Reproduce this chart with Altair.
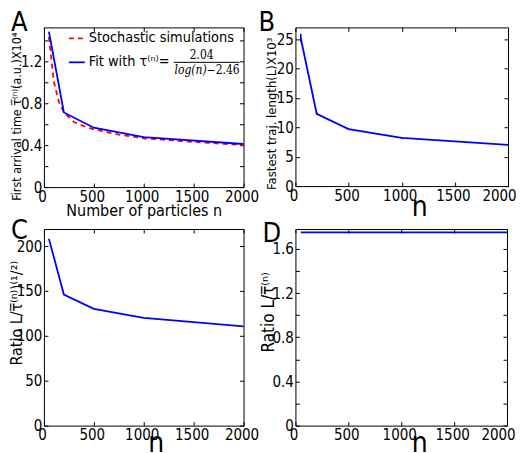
import altair as alt
import pandas as pd

# ---------------- data ----------------
n_values = [50, 200, 500, 1000, 2000]
n_sim = [50, 100, 150, 200, 300, 400, 500, 750, 1000, 1500, 2000]
tau_sim = [1.43, 1.00, 0.81, 0.71, 0.62, 0.58, 0.55, 0.50, 0.465, 0.43, 0.40]
tau_fit = [1.48, 0.71, 0.565, 0.475, 0.41]
fast_len = [25.2, 12.3, 9.7, 8.2, 7.0]
fast_len_err = [0.7, 0.2, 0.15, 0.15, 0.1]
ratio_sqrt = [208, 146, 130, 120, 110.5]
ratio_lin = [1.75, 1.75, 1.75, 1.75, 1.75]

x_ticks = [0, 500, 1000, 1500, 2000]
yA_ticks = [0, 0.2, 0.4, 0.6, 0.8, 1.0, 1.2, 1.4]
yB_ticks = [0, 5, 10, 15, 20, 25]
yC_ticks = [0, 50, 100, 150, 200]
yD_ticks = [0, 0.2, 0.4, 0.6, 0.8, 1.0, 1.2, 1.4, 1.6]

panel_letters = ["A", "B", "C", "D"]
legend_labels = ["Stochastic simulations", "Fit with τ⁽ⁿ⁾="]
fit_numerator = "2.04"
fit_den_left = "log(n)"
fit_den_right = "−2.46"

title_A_x = "Number of particles  n"
title_A_y = "First arrival time τ̅⁽ⁿ⁾(a.u.)X10⁴"
title_B_y = "Fastest traj. length(L)X10³"
title_C_y = "Ratio L/τ̅⁽ⁿ⁾)⁽¹/²⁾"
title_D_y = "Ratio L/τ̅⁽ⁿ⁾"
title_n = "n"

FONT = "'DejaVu Sans Condensed', 'DejaVu Sans'"
SERIF = "'DejaVu Serif Condensed', 'DejaVu Serif'"
TL = 4  # inward tick length
BLUE = "#0000ff"
RED = "#ff0000"
LBL = 15

df_A_sim = pd.DataFrame({"n": n_sim, "v": tau_sim})
df_A_fit = pd.DataFrame({"n": n_values, "v": tau_fit})
df_B = pd.DataFrame({"n": n_values, "v": fast_len, "lo": [a - b for a, b in zip(fast_len, fast_len_err)],
                     "hi": [a + b for a, b in zip(fast_len, fast_len_err)]})
df_C = pd.DataFrame({"n": n_values, "v": ratio_sqrt})
df_D = pd.DataFrame({"n": n_values, "v": ratio_lin})

SPLIT_EXPR = ("round(datum.value*10) % 4 == 0 ? (datum.value == 0 ? '0' : format(datum.value, '.1f')) : ''")


def x_main(title, size, tx, ty, last_shift=-2):
    return alt.Axis(orient="bottom", values=x_ticks, format="d", offset=-TL, tickSize=TL,
                    tickColor="black", domain=False, grid=False, labelPadding=2, labelFontSize=LBL,
                    labelFlush=False, labelOverlap=False, labelColor="black",
                    labelOffset={"condition": {"test": "datum.value == 2000", "value": last_shift},
                                 "value": -2},
                    labelFont=FONT,
                    title=title, titleFontSize=size, titleFontWeight="normal", titleColor="black",
                    titleFont=FONT,
                    titleX=tx, titleY=ty, titleAlign="center", titleBaseline="middle", titleAngle=0)


def y_main(values, title, size, tx, ty, expr=None):
    kw = dict(orient="left", values=values, offset=-TL, tickSize=TL, tickColor="black",
              domain=False, grid=False, labelPadding=2, labelFontSize=LBL, labelOverlap=False,
              labelColor="black", labelFont=FONT, title=title, titleFontSize=size,
              titleFontWeight="normal", titleFont=FONT,
              titleColor="black", titleX=tx, titleY=ty, titleAlign="center",
              titleBaseline="middle", titleAngle=270)
    if expr:
        kw["labelExpr"] = expr
    else:
        kw["format"] = "d"
    return alt.Axis(**kw)


def x_frame():
    return alt.Axis(orient="top", values=x_ticks, offset=-TL, tickSize=TL, tickColor="black",
                    domain=False, grid=False, labels=False, title=None)


def y_frame(values):
    return alt.Axis(orient="right", values=values, offset=-TL, tickSize=TL, tickColor="black",
                    domain=False, grid=False, labels=False, title=None)


def xs():
    return alt.Scale(domain=[0, 2000], nice=False, zero=False)


def ys(dom):
    return alt.Scale(domain=dom, nice=False, zero=False)


def letter(t, x, y):
    return alt.Chart(pd.DataFrame({"t": [t]})).mark_text(
        fontSize=27, font=FONT, align="left", baseline="alphabetic", color="black"
    ).encode(x=alt.value(x), y=alt.value(y), text="t:N")


# ---------------- panel A ----------------
yA = [0, 1.52]
A_sim = alt.Chart(df_A_sim).mark_line(color=RED, strokeDash=[5, 4], strokeWidth=1.8).encode(
    x=alt.X("n:Q", scale=xs(), axis=x_main(title_A_x, 16, 100, 27)),
    y=alt.Y("v:Q", scale=ys(yA), axis=y_main(yA_ticks, title_A_y, 12.5, -31, 89, SPLIT_EXPR)),
)
A_fit = alt.Chart(df_A_fit).mark_line(color=BLUE, strokeWidth=1.8).encode(
    x=alt.X("n:Q", scale=xs(), axis=x_frame()),
    y=alt.Y("v:Q", scale=ys(yA), axis=y_frame(yA_ticks)),
)
leg_df = pd.DataFrame({"k": [0]})
leg_red = alt.Chart(leg_df).mark_rule(color=RED, strokeDash=[5, 4], strokeWidth=1.8).encode(
    x=alt.value(25), x2=alt.value(41), y=alt.value(11))
leg_blue = alt.Chart(leg_df).mark_rule(color=BLUE, strokeWidth=1.8).encode(
    x=alt.value(25), x2=alt.value(41), y=alt.value(35))
leg_t1 = alt.Chart(pd.DataFrame({"t": [legend_labels[0]]})).mark_text(
    fontSize=14.4, font=FONT, align="left", baseline="middle", color="black").encode(
    x=alt.value(45), y=alt.value(11), text="t:N")
leg_t2 = alt.Chart(pd.DataFrame({"t": [legend_labels[1]]})).mark_text(
    fontSize=14.4, font=FONT, align="left", baseline="middle", color="black").encode(
    x=alt.value(45), y=alt.value(35), text="t:N")
leg_num = alt.Chart(pd.DataFrame({"t": [fit_numerator]})).mark_text(
    fontSize=12, font=SERIF, align="center", baseline="middle", color="black").encode(
    x=alt.value(158), y=alt.value(28), text="t:N")
leg_bar = alt.Chart(leg_df).mark_rule(color="black", strokeWidth=1).encode(
    x=alt.value(130), x2=alt.value(196), y=alt.value(35))
leg_den1 = alt.Chart(pd.DataFrame({"t": [fit_den_left]})).mark_text(
    fontSize=12, font=SERIF, fontStyle="italic", align="right", baseline="middle",
    color="black").encode(x=alt.value(163), y=alt.value(43), text="t:N")
leg_den2 = alt.Chart(pd.DataFrame({"t": [fit_den_right]})).mark_text(
    fontSize=12, font=SERIF, align="left", baseline="middle", color="black").encode(
    x=alt.value(163), y=alt.value(43), text="t:N")

panel_A = alt.layer(A_sim, A_fit, leg_red, leg_blue, leg_t1, leg_t2, leg_num, leg_bar,
                    leg_den1, leg_den2, letter(panel_letters[0], -33, 4)).resolve_axis(
    x="independent", y="independent").properties(width=200, height=160)

# ---------------- panel B ----------------
yB = [0, 27]
B_line = alt.Chart(df_B).mark_line(color=BLUE, strokeWidth=1.8).encode(
    x=alt.X("n:Q", scale=xs(), axis=x_main(title_n, 28, 124, 25, last_shift=-9)),
    y=alt.Y("v:Q", scale=ys(yB), axis=y_main(yB_ticks, title_B_y, 13, -28, 86)),
)
B_err = alt.Chart(df_B).mark_rule(color=BLUE, strokeWidth=1.5).encode(
    x=alt.X("n:Q", scale=xs(), axis=x_frame()),
    y=alt.Y("lo:Q", scale=ys(yB), axis=y_frame(yB_ticks)),
    y2="hi:Q",
)
panel_B = alt.layer(B_line, B_err, letter(panel_letters[1], -37, 4)).resolve_axis(
    x="independent", y="independent").properties(width=213, height=159)

# ---------------- panel C ----------------
yC = [0, 219]
C_line = alt.Chart(df_C).mark_line(color=BLUE, strokeWidth=1.8).encode(
    x=alt.X("n:Q", scale=xs(), axis=x_main(title_n, 28, 112, 22)),
    y=alt.Y("v:Q", scale=ys(yC), axis=y_main(yC_ticks, title_C_y, 16, -31, 84)),
)
C_frame = alt.Chart(df_C).mark_point(opacity=0).encode(
    x=alt.X("n:Q", scale=xs(), axis=x_frame()),
    y=alt.Y("v:Q", scale=ys(yC), axis=y_frame(yC_ticks)),
)
panel_C = alt.layer(C_line, C_frame, letter(panel_letters[2], -33, 10)).resolve_axis(
    x="independent", y="independent").properties(width=200, height=197)

# ---------------- panel D ----------------
yD = [0, 1.78]
D_line = alt.Chart(df_D).mark_line(color=BLUE, strokeWidth=1.8).encode(
    x=alt.X("n:Q", scale=xs(), axis=x_main(title_n, 28, 124, 22, last_shift=-9)),
    y=alt.Y("v:Q", scale=ys(yD), axis=y_main(yD_ticks, title_D_y, 17, -31, 83, SPLIT_EXPR)),
)
D_frame = alt.Chart(df_D).mark_point(opacity=0).encode(
    x=alt.X("n:Q", scale=xs(), axis=x_frame()),
    y=alt.Y("v:Q", scale=ys(yD), axis=y_frame(yD_ticks)),
)
panel_D = alt.layer(D_line, D_frame, letter(panel_letters[3], -33, 13)).resolve_axis(
    x="independent", y="independent").properties(width=212, height=197)

chart = alt.concat(
    panel_A, panel_B, panel_C, panel_D, columns=2,
    spacing={"row": 42, "column": 52}, bounds="flush", align="each"
).properties(
    padding={"left": 0, "top": 0, "right": -1, "bottom": 0}
).configure_view(stroke="black", strokeWidth=1).configure_axis(
    labelFont=FONT, titleFont=FONT
).configure_text(font=FONT)

chart.save("out.html", embed_options={"renderer": "svg", "actions": False})
